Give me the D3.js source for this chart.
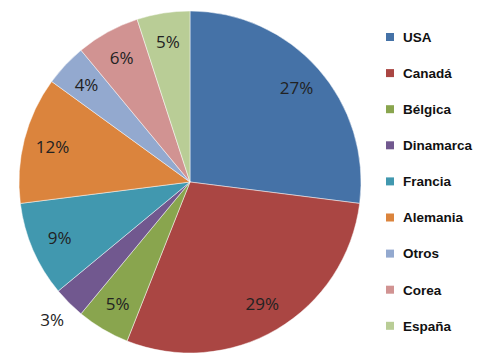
<!DOCTYPE html>
<html>
<head>
<meta charset="utf-8">
<script src="https://cdn.jsdelivr.net/npm/d3@7"></script>
<style>
  body { margin: 0; background: #fff; }
</style>
</head>
<body>
<svg width="479" height="361"></svg>
<script>
var categories = ["USA", "Canadá", "Bélgica", "Dinamarca", "Francia", "Alemania", "Otros", "Corea", "España"];
var values = [27, 29, 5, 3, 9, 12, 4, 6, 5];
var colors = ["#4572A7", "#AA4643", "#89A54E", "#71588F", "#4198AF", "#DB843D", "#93A9CF", "#D19392", "#B9CD96"];

var data = categories.map(function(c, i) { return {name: c, value: values[i]}; });

var svg = d3.select("svg"),
    cx = 190, cy = 182, radius = 171;

var color = d3.scaleOrdinal().domain(categories).range(colors);

var pie = d3.pie()
    .sort(null)
    .value(function(d) { return d.value; });

var arc = d3.arc().innerRadius(0).outerRadius(radius);

var g = svg.append("g")
    .attr("transform", "translate(" + cx + "," + cy + ")");

var arcs = pie(data);

g.selectAll(".slice")
  .data(arcs)
  .enter().append("path")
    .attr("class", "slice")
    .attr("d", arc)
    .attr("fill", function(d) { return color(d.data.name); })
    .attr("stroke", "#ffffff")
    .attr("stroke-opacity", 0.6)
    .attr("stroke-width", 0.8);

// labels inside, small ones pushed outside
g.selectAll(".lbl")
  .data(arcs)
  .enter().append("text")
    .attr("class", "lbl")
    .attr("transform", function(d) {
      var a = (d.startAngle + d.endAngle) / 2;
      var r = d.data.value <= 3 ? radius * 1.14 : radius * 0.83;
      return "translate(" + (Math.sin(a) * r) + "," + (-Math.cos(a) * r) + ")";
    })
    .attr("text-anchor", "middle")
    .attr("dy", "0.36em")
    .style("font-family", "'Open Sans', 'Noto Sans', sans-serif")
    .style("font-size", "17px")
    .attr("fill", "#222")
    .text(function(d) { return d.data.value + "%"; });

var legend = svg.append("g")
    .attr("transform", "translate(386,37)");

var item = legend.selectAll(".item")
  .data(categories)
  .enter().append("g")
    .attr("class", "item")
    .attr("transform", function(d, i) { return "translate(0," + (i * 36.1) + ")"; });

item.append("rect")
    .attr("x", 0)
    .attr("y", -4)
    .attr("width", 8)
    .attr("height", 8)
    .attr("fill", function(d) { return color(d); });

item.append("text")
    .attr("x", 17)
    .attr("dy", "0.36em")
    .style("font-family", "'Liberation Sans', Arial, sans-serif")
    .style("font-size", "13.5px")
    .style("font-weight", "bold")
    .attr("fill", "#111")
    .text(function(d) { return d; });
</script>
</body>
</html>
